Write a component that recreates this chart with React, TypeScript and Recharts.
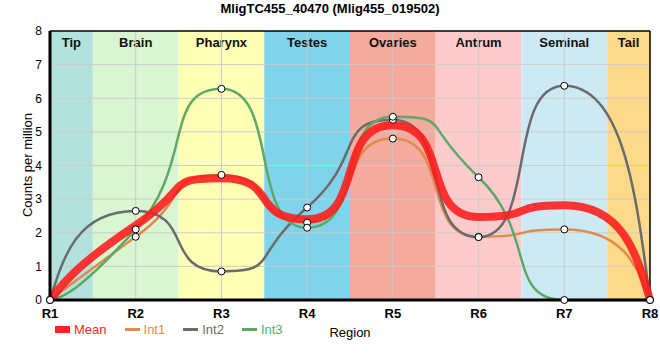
import {
  ComposedChart,
  Line,
  XAxis,
  YAxis,
  ReferenceArea,
  ReferenceLine,
} from 'recharts'

const regions = ['R1', 'R2', 'R3', 'R4', 'R5', 'R6', 'R7', 'R8']
const positions = [1, 2, 3, 4, 5, 6, 7, 8]
const meanValues = [0, 2.22, 3.62, 2.4, 5.2, 2.47, 2.82, 0]
const int1Values = [0, 1.88, 3.72, 2.3, 4.8, 1.88, 2.1, 0]
const int2Values = [0, 2.65, 0.85, 2.75, 5.36, 1.87, 6.37, 0]
const int3Values = [0, 2.1, 6.28, 2.15, 5.45, 3.65, 0, 0]
const yTicks = [0, 1, 2, 3, 4, 5, 6, 7, 8]

const bandLabels = ['Tip', 'Brain', 'Pharynx', 'Testes', 'Ovaries', 'Antrum', 'Seminal', 'Tail']
const bandColors = ['#b3e2dd', '#d9f5d1', '#ffffb6', '#7fd3ea', '#f4ab9d', '#fdcbcb', '#cdeaf4', '#fdd98a']

const series = [
  { key: 'int1', name: 'Int1', color: '#dd8b4e' },
  { key: 'int2', name: 'Int2', color: '#6b6b6b' },
  { key: 'int3', name: 'Int3', color: '#5ea866' },
]

const data = positions.map((x, i) => ({
  x,
  mean: meanValues[i],
  int1: int1Values[i],
  int2: int2Values[i],
  int3: int3Values[i],
}))

const font = 'Arial, "Liberation Sans", sans-serif'

// smooth curve with long horizontal handles: flat at peaks/valleys,
// steep transitions between regions, natural ends
const ARM = 0.68

function smoothCurve(context: any) {
  let pts: [number, number][] = []
  return {
    areaStart() {},
    areaEnd() {},
    lineStart() {
      pts = []
    },
    point(x: number, y: number) {
      pts.push([+x, +y])
    },
    lineEnd() {
      const n = pts.length
      if (!n) return
      const slopes = pts.map((p, i) => {
        if (i === 0 || i === n - 1) return 0
        const s0 = (p[1] - pts[i - 1][1]) / (p[0] - pts[i - 1][0])
        const s1 = (pts[i + 1][1] - p[1]) / (pts[i + 1][0] - p[0])
        if (s0 * s1 <= 0) return 0
        let m = (2 * s0 * s1) / (s0 + s1)
        const lim = Math.min(Math.abs(s0), Math.abs(s1)) / ARM
        if (Math.abs(m) > lim) m = Math.sign(m) * lim
        return m
      })
      context.moveTo(pts[0][0], pts[0][1])
      for (let i = 0; i < n - 1; i++) {
        const [x0, y0] = pts[i]
        const [x1, y1] = pts[i + 1]
        const h = (x1 - x0) * ARM
        let c1 = [x0 + h, y0 + h * slopes[i]]
        let c2 = [x1 - h, y1 - h * slopes[i + 1]]
        if (i === 0) c1 = [(x0 + c2[0]) / 2, (y0 + c2[1]) / 2]
        if (i + 1 === n - 1) c2 = [(x1 + c1[0]) / 2, (y1 + c1[1]) / 2]
        context.bezierCurveTo(c1[0], c1[1], c2[0], c2[1], x1, y1)
      }
    },
  }
}

const legendItems = [
  { name: 'Mean', color: '#ff2424', box: true },
  { name: 'Int1', color: '#dd8b4e', box: false },
  { name: 'Int2', color: '#6b6b6b', box: false },
  { name: 'Int3', color: '#5ea866', box: false },
]

export default function App() {
  return (
    <div style={{ position: 'absolute', left: 0, top: 0, width: 660, height: 360, background: '#fff' }}>
      <div
        style={{
          position: 'absolute',
          left: 0,
          top: 1,
          width: 660,
          textAlign: 'center',
          fontFamily: font,
          fontWeight: 'bold',
          fontSize: 13,
        }}
      >
        MligTC455_40470 (Mlig455_019502)
      </div>
      <ComposedChart
        width={660}
        height={360}
        data={data}
        margin={{ top: 31, right: 10, left: 20, bottom: 30 }}
      >
        {bandLabels.map((label, i) => (
          <ReferenceArea
            key={label}
            x1={Math.max(1, i + 0.5)}
            x2={Math.min(8, i + 1.5)}
            y1={0}
            y2={8}
            fill={bandColors[i]}
            fillOpacity={1}
            stroke="none"
            label={({ viewBox }: any) => (
              <text
                x={viewBox.x + viewBox.width / 2}
                y={viewBox.y + 16}
                textAnchor="middle"
                fontFamily={font}
                fontWeight="bold"
                fontSize={13}
                fill="#111"
              >
                {label}
              </text>
            )}
          />
        ))}
        {yTicks.slice(1, -1).map((v) => (
          <ReferenceLine key={'y' + v} y={v} stroke="#cccccc" strokeWidth={1} />
        ))}
        {positions.slice(1, -1).map((v) => (
          <ReferenceLine key={'x' + v} x={v} stroke="#cccccc" strokeWidth={1} />
        ))}
        <ReferenceLine y={8} stroke="#000" strokeWidth={1.5} />
        <ReferenceLine x={8} stroke="#000" strokeWidth={1.5} />
        <XAxis
          dataKey="x"
          type="number"
          domain={[1, 8]}
          ticks={positions}
          tickFormatter={(v) => regions[v - 1]}
          height={30}
          stroke="#000"
          strokeWidth={3}
          tickLine={false}
          tick={{ fontFamily: font, fontSize: 13, fontWeight: 'bold', fill: '#000' }}
          tickMargin={3}
          label={({ viewBox }: any) => (
            <text
              x={viewBox.x + viewBox.width / 2}
              y={337}
              textAnchor="middle"
              fontFamily={font}
              fontSize={13}
              fill="#000"
            >
              Region
            </text>
          )}
        />
        <YAxis
          type="number"
          domain={[0, 8]}
          ticks={yTicks}
          width={30}
          stroke="#000"
          strokeWidth={3}
          tickLine={false}
          tick={{ fontFamily: font, fontSize: 12, fill: '#000' }}
          tickMargin={2}
          label={() => (
            <text
              x={32}
              y={165}
              transform="rotate(-90 32 165)"
              textAnchor="middle"
              fontFamily={font}
              fontSize={13}
              fill="#000"
            >
              Counts per million
            </text>
          )}
        />
        {series.map((s) => (
          <Line
            key={s.key}
            dataKey={s.key}
            name={s.name}
            type={smoothCurve as any}
            stroke={s.color}
            strokeWidth={2.5}
            dot={{ r: 3.5, fill: '#fff', stroke: '#000', strokeWidth: 1 }}
            activeDot={false}
            isAnimationActive={false}
          />
        ))}
        <Line
          dataKey="mean"
          name="Mean"
          type={smoothCurve as any}
          stroke="#ff1a1a"
          strokeOpacity={0.88}
          strokeWidth={8}
          dot={false}
          activeDot={false}
          isAnimationActive={false}
        />
      </ComposedChart>
      <div
        style={{
          position: 'absolute',
          left: 55,
          top: 322,
          display: 'flex',
          alignItems: 'center',
          fontFamily: font,
          fontSize: 13,
        }}
      >
        {legendItems.map((it) => (
          <div key={it.name} style={{ display: 'flex', alignItems: 'center', marginRight: 18 }}>
            <span
              style={{
                display: 'inline-block',
                width: 15,
                height: it.box ? 7 : 2.5,
                background: it.color,
                marginRight: 4,
              }}
            />
            <span style={{ color: it.color }}>{it.name}</span>
          </div>
        ))}
      </div>
    </div>
  )
}
